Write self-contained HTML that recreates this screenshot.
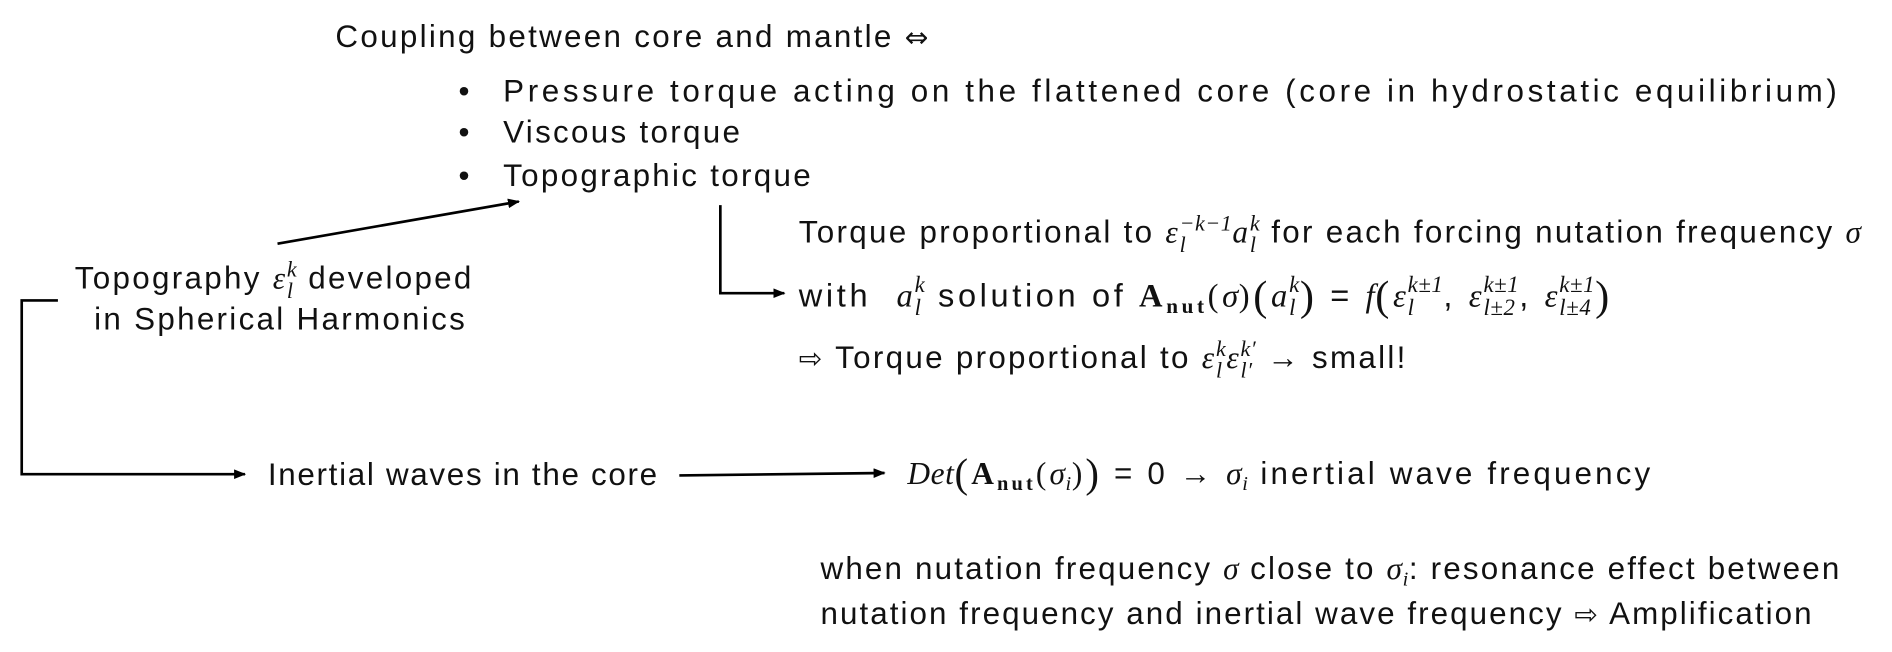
<!DOCTYPE html>
<html><head><meta charset="utf-8"><style>
html,body{margin:0;padding:0;background:#fff;}
#wrap{width:1892px;height:652px;overflow:hidden;position:relative;}
#c{position:absolute;left:0;top:0;width:1568px;height:540px;transform:scale(1.2066);transform-origin:0 0;font-family:"Liberation Sans","DejaVu Sans",sans-serif;font-size:26px;letter-spacing:1.9px;color:#111;}
.t{position:absolute;white-space:nowrap;line-height:30px;}
.m{font-family:"Liberation Serif","DejaVu Serif",serif;font-style:italic;letter-spacing:0.5px;}
.r{font-family:"Liberation Serif",serif;font-style:normal;}
.b{font-family:"Liberation Serif",serif;font-weight:bold;font-style:normal;}
.ss{display:inline-flex;flex-direction:column;vertical-align:middle;font-size:0.7em;line-height:1.0;font-family:"Liberation Serif",serif;font-style:italic;margin-left:1px;letter-spacing:0.5px;}
.sub{font-size:0.65em;vertical-align:-0.3em;}
.big{font-size:1.3em;font-family:"Liberation Serif",serif;font-style:normal;vertical-align:-0.08em;}
.sym{font-family:"DejaVu Sans",sans-serif;font-size:0.9em;}
</style></head><body><div id="wrap"><div id="c">
<svg width="1568" height="540" style="position:absolute;left:0;top:0">
<defs><marker id="a" markerWidth="10" markerHeight="8" refX="9" refY="4" orient="auto" markerUnits="userSpaceOnUse"><path d="M0,0 L10,4 L0,8z" fill="#000"/></marker></defs>
<g stroke="#000" stroke-width="2.2" fill="none">
<line x1="230" y1="202" x2="430" y2="167" marker-end="url(#a)"/>
<polyline points="48,249 18,249 18,393 203,393" marker-end="url(#a)"/>
<line x1="563" y1="394" x2="733" y2="392" marker-end="url(#a)"/>
<polyline points="597,170 597,243 650,243" marker-end="url(#a)"/>
</g></svg>
<div class="t" style="left:278px;top:15px">Coupling between core and mantle <span class="sym">⇔</span></div>
<div class="t" style="left:380px;top:60px">•</div>
<div class="t" style="left:417px;top:60px;letter-spacing:3px">Pressure torque acting on the flattened core (core in hydrostatic equilibrium)</div>
<div class="t" style="left:380px;top:94px">•</div>
<div class="t" style="left:417px;top:94px">Viscous torque</div>
<div class="t" style="left:380px;top:130px">•</div>
<div class="t" style="left:417px;top:130px">Topographic torque</div>
<div class="t" style="left:62px;top:214px">Topography <span class="m">ε</span><span class="ss"><span>k</span><span>l</span></span> developed</div>
<div class="t" style="left:78px;top:249px">in Spherical Harmonics</div>
<div class="t" style="left:662px;top:176px">Torque proportional to <span class="m">ε</span><span class="ss"><span>−k−1</span><span>l</span></span><span class="m">a</span><span class="ss"><span>k</span><span>l</span></span> for each forcing nutation frequency <span class="m">σ</span></div>
<div class="t" style="left:662px;top:228px;letter-spacing:3px;font-size:27px">with &nbsp;<span class="m">a</span><span class="ss"><span>k</span><span>l</span></span> solution of <span class="b">A<span class="sub">nut</span></span><span class="r">(</span><span class="m">σ</span><span class="r">)</span><span class="big">(</span><span class="m">a</span><span class="ss"><span>k</span><span>l</span></span><span class="big">)</span> = <span class="m">f</span><span class="big">(</span><span class="m">ε</span><span class="ss"><span>k±1</span><span>l</span></span>, <span class="m">ε</span><span class="ss"><span>k±1</span><span>l±2</span></span>, <span class="m">ε</span><span class="ss"><span>k±1</span><span>l±4</span></span><span class="big">)</span></div>
<div class="t" style="left:662px;top:280px"><span class="sym">⇨</span> Torque proportional to <span class="m">ε</span><span class="ss"><span>k</span><span>l</span></span><span class="m">ε</span><span class="ss"><span>k′</span><span>l′</span></span> → small!</div>
<div class="t" style="left:222px;top:378px;letter-spacing:1.4px">Inertial waves in the core</div>
<div class="t" style="left:752px;top:377px;letter-spacing:2.6px"><span class="m">Det</span><span class="big">(</span><span class="b">A<span class="sub">nut</span></span><span class="r">(</span><span class="m">σ<span class="sub">i</span></span><span class="r">)</span><span class="big">)</span> = 0 → <span class="m">σ<span class="sub">i</span></span> inertial wave frequency</div>
<div class="t" style="left:680px;top:456px;letter-spacing:1.8px">when nutation frequency <span class="m">σ</span> close to <span class="m">σ<span class="sub">i</span></span>: resonance effect between</div>
<div class="t" style="left:680px;top:493px;letter-spacing:1.7px">nutation frequency and inertial wave frequency <span class="sym">⇨</span> Amplification</div>
</div></div></body></html>
